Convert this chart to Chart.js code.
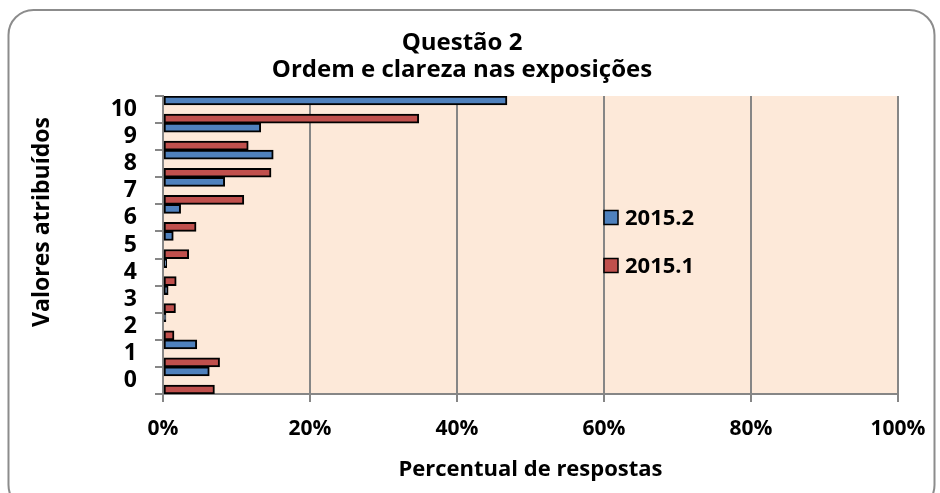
<!DOCTYPE html>
<html>
<head>
<meta charset="utf-8">
<script src="https://cdn.jsdelivr.net/npm/chart.js@4.4.0/dist/chart.umd.min.js"></script>
<style>
  html, body { margin: 0; padding: 0; background: #fff; }
  #wrap { width: 940px; height: 493px; }
</style>
</head>
<body>
<div id="wrap"><canvas id="grafico"></canvas></div>
<script>
// dados (percentual de respostas por nota)
const categorias = ['10', '9', '8', '7', '6', '5', '4', '3', '2', '1', '0'];
const serie20152 = [46.8, 13.3, 15.0, 8.4, 2.4, 1.4, 0.5, 0.7, 0.4, 4.6, 6.3];
const serie20151 = [34.8, 11.6, 14.7, 11.0, 4.5, 3.5, 1.8, 1.7, 1.5, 7.7, 7.0];
const vazio = categorias.map(() => null); // espaço entre as duas barras
const titulo = ['Questão 2', 'Ordem e clareza nas exposições'];

Chart.defaults.font.family = '"Open Sans"';
Chart.defaults.color = '#000';

const cinza = '#868686';

const fundo = {
  id: 'fundo',
  beforeDraw(chart) {
    const { ctx, chartArea: a } = chart;
    ctx.save();
    ctx.fillStyle = '#fff';
    ctx.fillRect(0, 0, chart.width, chart.height);
    ctx.strokeStyle = '#8c8c8c';
    ctx.lineWidth = 2;
    ctx.beginPath();
    ctx.roundRect(8.5, 10, 926, 500, 25);
    ctx.stroke();
    ctx.fillStyle = '#fde9d9';
    ctx.fillRect(a.left, a.top, a.right - a.left, a.bottom - a.top);
    ctx.restore();
  },
  afterDraw(chart) {
    const { ctx, chartArea: a } = chart;
    ctx.save();
    // titulo do eixo y
    ctx.font = 'bold 23px "Open Sans"';
    ctx.textAlign = 'center';
    ctx.textBaseline = 'middle';
    ctx.translate(42, 222);
    ctx.rotate(-Math.PI / 2);
    ctx.fillText('Valores atribuídos', 0, 0);
    ctx.restore();

    // legenda dentro da área do gráfico
    ctx.save();
    const x = a.left + (a.right - a.left) * 0.6;
    let y = a.top + 121.5;
    chart.data.datasets.forEach(ds => {
      if (!ds.label) return;
      ctx.fillStyle = ds.backgroundColor;
      ctx.fillRect(x, y - 7, 14, 14);
      ctx.strokeStyle = '#000';
      ctx.lineWidth = 1.5;
      ctx.strokeRect(x, y - 7, 14, 14);
      ctx.fillStyle = '#000';
      ctx.font = 'bold 22px "Open Sans"';
      ctx.textBaseline = 'middle';
      ctx.fillText(ds.label, x + 21, y + 1);
      y += 48;
    });
    ctx.restore();
  }
};

new Chart(document.getElementById('grafico'), {
  type: 'bar',
  data: {
    labels: categorias,
    datasets: [
      { label: '2015.2', data: serie20152, backgroundColor: '#4f81bd', borderColor: '#000', borderWidth: 2, borderSkipped: false },
      { label: '', data: vazio },
      { label: '2015.1', data: serie20151, backgroundColor: '#c0504d', borderColor: '#000', borderWidth: 2, borderSkipped: false }
    ]
  },
  options: {
    indexAxis: 'y',
    responsive: true,
    maintainAspectRatio: false,
    animation: false,
    datasets: { bar: { categoryPercentage: 1, barPercentage: 1 } },
    layout: { padding: { left: 0, right: 16, top: 0, bottom: 0 } },
    plugins: {
      legend: { display: false },
      tooltip: { enabled: false },
      title: {
        display: true,
        text: titulo,
        font: { size: 24, weight: 'bold', lineHeight: 1.125 },
        padding: { top: 30, bottom: 12 },
        color: '#000'
      }
    },
    scales: {
      x: {
        min: 0,
        max: 100,
        ticks: {
          stepSize: 20,
          padding: 14,
          font: { size: 21, weight: 'bold' },
          callback: v => v + '%'
        },
        grid: { color: cinza, lineWidth: 2, tickLength: 8, tickColor: cinza },
        border: { color: cinza, width: 2 },
        title: {
          display: true,
          text: 'Percentual de respostas',
          font: { size: 22, weight: 'bold' },
          padding: { top: 0, bottom: 10 }
        },
        afterFit(scale) {
          scale.height = 99;
          scale.paddingRight = 42;
        }
      },
      y: {
        ticks: { padding: 18, autoSkip: false, font: { size: 23, weight: 'bold', lineHeight: 1 } },
        grid: { drawOnChartArea: false, tickLength: 8, color: cinza, lineWidth: 2 },
        border: { color: cinza, width: 2 },
        afterFit(scale) {
          scale.width = 163;
        }
      }
    }
  },
  plugins: [fundo]
});
</script>
</body>
</html>
